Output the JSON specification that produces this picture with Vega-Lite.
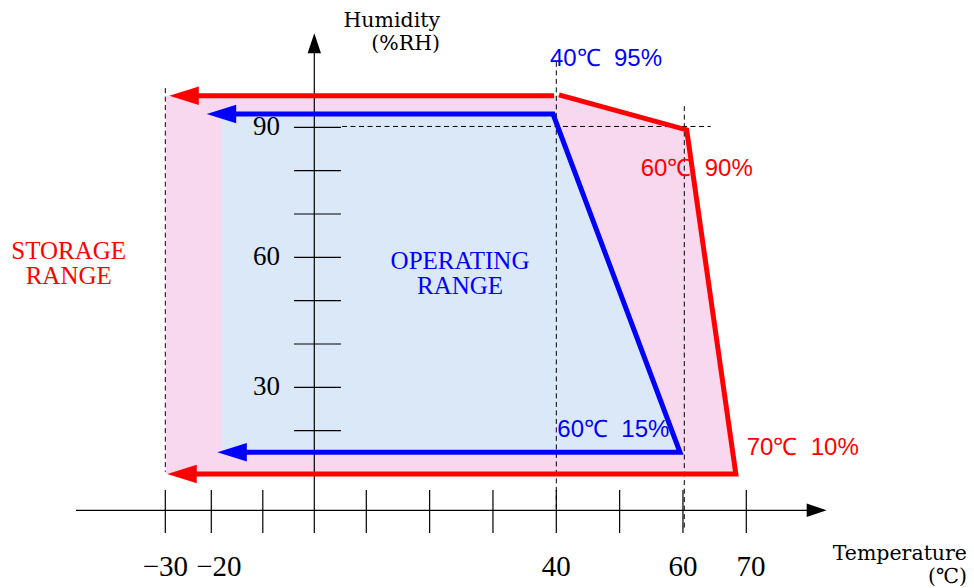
{
  "$schema": "https://vega.github.io/schema/vega-lite/v6.json",
  "width": 974,
  "height": 588,
  "autosize": {"type": "none"},
  "padding": 0,
  "background": "white",
  "config": {"view": {"stroke": null}},
  "datasets": {
    "regions": [
      {"range": "storage", "t": -29.85, "top": 97.3, "bottom": 10},
      {"range": "storage", "t": 39.64, "top": 97.3, "bottom": 10},
      {"range": "storage", "t": 40.43, "top": 97.5, "bottom": 10},
      {"range": "storage", "t": 60.59, "top": 89.4, "bottom": 10},
      {"range": "storage", "t": 68.35, "top": 10, "bottom": 10},
      {"range": "operating", "t": -17.86, "top": 93.07, "bottom": 15},
      {"range": "operating", "t": 39.48, "top": 93.07, "bottom": 15},
      {"range": "operating", "t": 59.53, "top": 15, "bottom": 15}
    ],
    "guides": [
      {"t": -30, "h": 99.05, "t2": -30, "h2": 10.5},
      {"t": 40, "h": 105.1, "t2": 40, "h2": 1.7},
      {"t": 60.21, "h": 94.9, "t2": 60.21, "h2": -2.9},
      {"t": 5.33, "h": 90.2, "t2": 64.38, "h2": 90.2}
    ],
    "axes": [
      {"t": -49.41, "h": 1.62, "t2": 79.8, "h2": 1.62},
      {"t": 0, "h": -3.62, "t2": 0, "h2": 107.5}
    ],
    "xticks": [{"t": -30}, {"t": -20}, {"t": -10}, {"t": 10}, {"t": 20}, {"t": 30}, {"t": 40}, {"t": 50}, {"t": 60}, {"t": 70}],
    "yticks": [{"h": 10}, {"h": 20}, {"h": 30}, {"h": 40}, {"h": 50}, {"h": 60}, {"h": 70}, {"h": 80}, {"h": 90}],
    "bounds": [
      {"range": "storage", "seg": "sA", "i": 0, "t": -23.6, "h": 97.3},
      {"range": "storage", "seg": "sA", "i": 1, "t": 39.64, "h": 97.3},
      {"range": "storage", "seg": "sB", "i": 0, "t": 40.43, "h": 97.5},
      {"range": "storage", "seg": "sB", "i": 1, "t": 60.59, "h": 89.4},
      {"range": "storage", "seg": "sB", "i": 2, "t": 68.35, "h": 10.0},
      {"range": "storage", "seg": "sB", "i": 3, "t": -23.8, "h": 10.0},
      {"range": "operating", "seg": "o", "i": 0, "t": -16, "h": 93.07},
      {"range": "operating", "seg": "o", "i": 1, "t": 39.48, "h": 93.07},
      {"range": "operating", "seg": "o", "i": 2, "t": 59.53, "h": 15.0},
      {"range": "operating", "seg": "o", "i": 3, "t": -14, "h": 15.0}
    ],
    "arrows": [
      {"range": "storage", "t": -29.13, "h": 97.3},
      {"range": "storage", "t": -29.57, "h": 10.0},
      {"range": "operating", "t": -21.0, "h": 93.07},
      {"range": "operating", "t": -18.83, "h": 15.0}
    ],
    "titlesY": [
      {"text": ["Humidity", "(%RH)"], "t": 21.64, "h": 113.04}
    ],
    "titlesX": [
      {"text": ["Temperature", "(℃)"], "t": 104.85, "h": -9.85}
    ],
    "rangeLabels": [
      {"text": ["OPERATING", "RANGE"], "t": 24.8, "h": 57.23, "range": "operating"},
      {"text": ["STORAGE", "RANGE"], "t": -51.0, "h": 59.54, "range": "storage"}
    ],
    "pointLabels": [
      {"text": "40℃\u00a0 95%", "t": 39.0, "h": 104.22, "range": "operating"},
      {"text": "60℃\u00a0 90%", "t": 53.33, "h": 78.77, "range": "storage"},
      {"text": "60℃\u00a0 15%", "t": 40.16, "h": 18.6, "range": "operating"},
      {"text": "70℃\u00a0 10%", "t": 70.06, "h": 14.38, "range": "storage"}
    ],
    "xlabels": [
      {"text": "−30", "t": -30},
      {"text": "−20", "t": -18.54},
      {"text": "40", "t": 40},
      {"text": "60", "t": 60},
      {"text": "70", "t": 70.74}
    ],
    "ylabels": [
      {"text": "90", "h": 90},
      {"text": "60", "h": 60},
      {"text": "30", "h": 30}
    ]
  },
  "layer": [
    {
      "data": {"name": "regions"},
      "transform": [{"filter": "datum.range === 'storage'"}],
      "mark": {"type": "area", "color": "#f8d8ee", "opacity": 1},
      "encoding": {
        "x": {"field": "t", "type": "quantitative", "scale": {"domain": [-30, -20, 0, 10, 70], "range": [165.3, 211.3, 314.3, 366.3, 746.3], "nice": false, "zero": false}, "axis": null},
        "y": {"field": "top", "type": "quantitative", "stack": null, "scale": {"domain": [0, 100], "range": [517.3, 84], "nice": false, "zero": false}, "axis": null},
        "y2": {"field": "bottom"}
      }
    },
    {
      "data": {"name": "regions"},
      "transform": [{"filter": "datum.range === 'operating'"}],
      "mark": {"type": "area", "color": "#dae8f8", "opacity": 1},
      "encoding": {
        "x": {"field": "t", "type": "quantitative", "scale": {"domain": [-30, -20, 0, 10, 70], "range": [165.3, 211.3, 314.3, 366.3, 746.3], "nice": false, "zero": false}, "axis": null},
        "y": {"field": "top", "type": "quantitative", "stack": null, "scale": {"domain": [0, 100], "range": [517.3, 84], "nice": false, "zero": false}, "axis": null},
        "y2": {"field": "bottom"}
      }
    },
    {
      "data": {"name": "guides"},
      "mark": {"type": "rule", "color": "black", "strokeWidth": 1, "strokeDash": [5, 3.5]},
      "encoding": {
        "x": {"field": "t", "type": "quantitative", "scale": {"domain": [-30, -20, 0, 10, 70], "range": [165.3, 211.3, 314.3, 366.3, 746.3], "nice": false, "zero": false}, "axis": null},
        "y": {"field": "h", "type": "quantitative", "scale": {"domain": [0, 100], "range": [517.3, 84], "nice": false, "zero": false}, "axis": null},
        "x2": {"field": "t2"},
        "y2": {"field": "h2"}
      }
    },
    {
      "data": {"name": "axes"},
      "mark": {"type": "rule", "color": "black", "strokeWidth": 1.2},
      "encoding": {
        "x": {"field": "t", "type": "quantitative", "scale": {"domain": [-30, -20, 0, 10, 70], "range": [165.3, 211.3, 314.3, 366.3, 746.3], "nice": false, "zero": false}, "axis": null},
        "y": {"field": "h", "type": "quantitative", "scale": {"domain": [0, 100], "range": [517.3, 84], "nice": false, "zero": false}, "axis": null},
        "x2": {"field": "t2"},
        "y2": {"field": "h2"}
      }
    },
    {
      "data": {"name": "xticks"},
      "mark": {"type": "rule", "color": "black", "strokeWidth": 1.2},
      "encoding": {
        "x": {"field": "t", "type": "quantitative", "scale": {"domain": [-30, -20, 0, 10, 70], "range": [165.3, 211.3, 314.3, 366.3, 746.3], "nice": false, "zero": false}, "axis": null},
        "y": {"datum": 6.3, "type": "quantitative", "scale": {"domain": [0, 100], "range": [517.3, 84], "nice": false, "zero": false}, "axis": null},
        "y2": {"datum": -3.62}
      }
    },
    {
      "data": {"name": "yticks"},
      "mark": {"type": "rule", "color": "black", "strokeWidth": 1.2},
      "encoding": {
        "x": {"datum": -3.94, "type": "quantitative", "scale": {"domain": [-30, -20, 0, 10, 70], "range": [165.3, 211.3, 314.3, 366.3, 746.3], "nice": false, "zero": false}, "axis": null},
        "x2": {"datum": 5.13},
        "y": {"field": "h", "type": "quantitative", "scale": {"domain": [0, 100], "range": [517.3, 84], "nice": false, "zero": false}, "axis": null}
      }
    },
    {
      "data": {"name": "bounds"},
      "mark": {"type": "line", "strokeWidth": 5, "strokeJoin": "miter", "strokeCap": "butt"},
      "encoding": {
        "x": {"field": "t", "type": "quantitative", "scale": {"domain": [-30, -20, 0, 10, 70], "range": [165.3, 211.3, 314.3, 366.3, 746.3], "nice": false, "zero": false}, "axis": null},
        "y": {"field": "h", "type": "quantitative", "scale": {"domain": [0, 100], "range": [517.3, 84], "nice": false, "zero": false}, "axis": null},
        "color": {"field": "range", "type": "nominal", "scale": {"domain": ["storage", "operating"], "range": ["#ff0000", "#0000ff"]}, "legend": null},
        "detail": {"field": "seg"},
        "order": {"field": "i", "type": "quantitative"}
      }
    },
    {
      "data": {"name": "arrows"},
      "mark": {"type": "point", "shape": "M0,0L2.95,-0.92L2.95,0.92Z", "size": 400, "filled": true, "opacity": 1, "strokeWidth": 0},
      "encoding": {
        "x": {"field": "t", "type": "quantitative", "scale": {"domain": [-30, -20, 0, 10, 70], "range": [165.3, 211.3, 314.3, 366.3, 746.3], "nice": false, "zero": false}, "axis": null},
        "y": {"field": "h", "type": "quantitative", "scale": {"domain": [0, 100], "range": [517.3, 84], "nice": false, "zero": false}, "axis": null},
        "color": {"field": "range", "type": "nominal", "scale": {"domain": ["storage", "operating"], "range": ["#ff0000", "#0000ff"]}, "legend": null}
      }
    },
    {
      "data": {"values": [{"t": 82.69, "h": 1.62}]},
      "mark": {"type": "point", "shape": "M0,0L-2,-0.67L-2,0.67Z", "size": 400, "filled": true, "opacity": 1, "color": "black", "strokeWidth": 0},
      "encoding": {
        "x": {"field": "t", "type": "quantitative", "scale": {"domain": [-30, -20, 0, 10, 70], "range": [165.3, 211.3, 314.3, 366.3, 746.3], "nice": false, "zero": false}, "axis": null},
        "y": {"field": "h", "type": "quantitative", "scale": {"domain": [0, 100], "range": [517.3, 84], "nice": false, "zero": false}, "axis": null}
      }
    },
    {
      "data": {"values": [{"t": 0, "h": 111.7}]},
      "mark": {"type": "point", "shape": "M0,0L0.67,2L-0.67,2Z", "size": 400, "filled": true, "opacity": 1, "color": "black", "strokeWidth": 0},
      "encoding": {
        "x": {"field": "t", "type": "quantitative", "scale": {"domain": [-30, -20, 0, 10, 70], "range": [165.3, 211.3, 314.3, 366.3, 746.3], "nice": false, "zero": false}, "axis": null},
        "y": {"field": "h", "type": "quantitative", "scale": {"domain": [0, 100], "range": [517.3, 84], "nice": false, "zero": false}, "axis": null}
      }
    },
    {
      "data": {"name": "titlesY"},
      "mark": {"type": "text", "font": "DejaVu Serif", "fontSize": 20.5, "lineHeight": 23, "align": "right", "baseline": "alphabetic", "color": "black"},
      "encoding": {
        "x": {"field": "t", "type": "quantitative", "scale": {"domain": [-30, -20, 0, 10, 70], "range": [165.3, 211.3, 314.3, 366.3, 746.3], "nice": false, "zero": false}, "axis": null},
        "y": {"field": "h", "type": "quantitative", "scale": {"domain": [0, 100], "range": [517.3, 84], "nice": false, "zero": false}, "axis": null},
        "text": {"field": "text"}
      }
    },
    {
      "data": {"name": "titlesX"},
      "mark": {"type": "text", "font": "DejaVu Serif", "fontSize": 20.5, "lineHeight": 23, "align": "right", "baseline": "alphabetic", "color": "black"},
      "encoding": {
        "x": {"field": "t", "type": "quantitative", "scale": {"domain": [-30, -20, 0, 10, 70], "range": [165.3, 211.3, 314.3, 366.3, 746.3], "nice": false, "zero": false}, "axis": null},
        "y": {"field": "h", "type": "quantitative", "scale": {"domain": [0, 100], "range": [517.3, 84], "nice": false, "zero": false}, "axis": null},
        "text": {"field": "text"}
      }
    },
    {
      "data": {"name": "rangeLabels"},
      "mark": {"type": "text", "font": "Liberation Serif", "fontSize": 25, "lineHeight": 24.5, "align": "center", "baseline": "alphabetic"},
      "encoding": {
        "x": {"field": "t", "type": "quantitative", "scale": {"domain": [-30, -20, 0, 10, 70], "range": [165.3, 211.3, 314.3, 366.3, 746.3], "nice": false, "zero": false}, "axis": null},
        "y": {"field": "h", "type": "quantitative", "scale": {"domain": [0, 100], "range": [517.3, 84], "nice": false, "zero": false}, "axis": null},
        "color": {"field": "range", "type": "nominal", "scale": {"domain": ["storage", "operating"], "range": ["#ff0000", "#0000ff"]}, "legend": null},
        "text": {"field": "text"}
      }
    },
    {
      "data": {"name": "pointLabels"},
      "mark": {"type": "text", "font": "Liberation Sans", "fontSize": 24, "align": "left", "baseline": "alphabetic"},
      "encoding": {
        "x": {"field": "t", "type": "quantitative", "scale": {"domain": [-30, -20, 0, 10, 70], "range": [165.3, 211.3, 314.3, 366.3, 746.3], "nice": false, "zero": false}, "axis": null},
        "y": {"field": "h", "type": "quantitative", "scale": {"domain": [0, 100], "range": [517.3, 84], "nice": false, "zero": false}, "axis": null},
        "color": {"field": "range", "type": "nominal", "scale": {"domain": ["storage", "operating"], "range": ["#ff0000", "#0000ff"]}, "legend": null},
        "text": {"field": "text"}
      }
    },
    {
      "data": {"name": "xlabels"},
      "mark": {"type": "text", "font": "Liberation Serif", "fontSize": 29, "align": "center", "baseline": "alphabetic", "color": "black"},
      "encoding": {
        "x": {"field": "t", "type": "quantitative", "scale": {"domain": [-30, -20, 0, 10, 70], "range": [165.3, 211.3, 314.3, 366.3, 746.3], "nice": false, "zero": false}, "axis": null},
        "y": {"datum": -13.54, "type": "quantitative", "scale": {"domain": [0, 100], "range": [517.3, 84], "nice": false, "zero": false}, "axis": null},
        "text": {"field": "text"}
      }
    },
    {
      "data": {"name": "ylabels"},
      "mark": {"type": "text", "font": "Liberation Serif", "fontSize": 27, "align": "right", "baseline": "middle", "color": "black"},
      "encoding": {
        "x": {"datum": -6.66, "type": "quantitative", "scale": {"domain": [-30, -20, 0, 10, 70], "range": [165.3, 211.3, 314.3, 366.3, 746.3], "nice": false, "zero": false}, "axis": null},
        "y": {"field": "h", "type": "quantitative", "scale": {"domain": [0, 100], "range": [517.3, 84], "nice": false, "zero": false}, "axis": null},
        "text": {"field": "text"}
      }
    }
  ]
}
